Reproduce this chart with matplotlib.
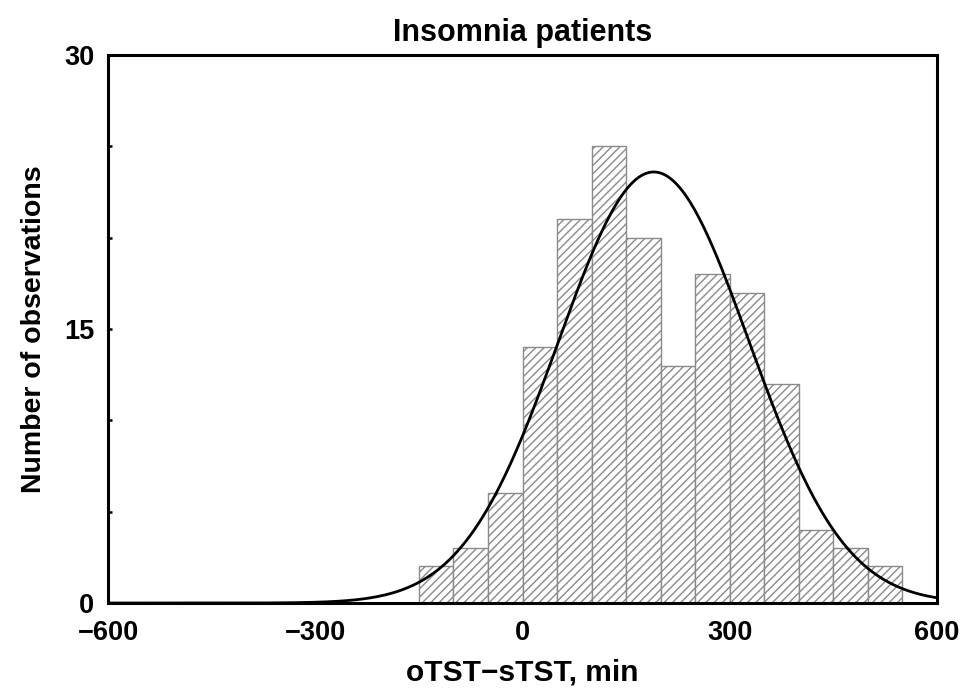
import numpy as np
import matplotlib.pyplot as plt

plt.rcParams['font.family'] = ['Liberation Sans', 'DejaVu Sans']
plt.rcParams['font.weight'] = 'bold'
plt.rcParams['hatch.color'] = '#6a6a6a'
plt.rcParams['hatch.linewidth'] = 1.0

# histogram: left bin edges (min) and counts
bin_left = [-150, -100, -50, 0, 50, 100, 150, 200, 250, 300, 350, 400, 450, 500]
counts = [2, 3, 6, 14, 21, 25, 20, 13, 18, 17, 12, 4, 3, 2]
bin_width = 50

# fitted normal curve (peak height, mean, sd)
fit_peak = 23.6
fit_mean = 190
fit_sd = 138

fig = plt.figure(figsize=(9.67, 6.88), dpi=100)
ax = fig.add_axes([0.1117, 0.1235, 0.8573, 0.7965])

ax.bar(bin_left, counts, width=bin_width, align='edge', color='white',
       edgecolor='#8a8a8a', linewidth=1.0, hatch='////')

xs = np.linspace(-600, 600, 600)
ys = fit_peak * np.exp(-0.5 * ((xs - fit_mean) / fit_sd) ** 2)
ax.plot(xs, ys, color='black', linewidth=2)

ax.set_xlim(-600, 600)
ax.set_ylim(0, 30)
ax.set_xticks([-600, -300, 0, 300, 600])
ax.set_xticklabels(['\u2212600', '\u2212300', '0', '300', '600'])
ax.set_yticks([0, 15, 30])
ax.set_yticks([5, 10, 20, 25], minor=True)
ax.tick_params(axis='both', which='both', direction='in', labelsize=19.5, width=1.8)
ax.tick_params(axis='x', which='major', length=0, pad=12)
ax.tick_params(axis='y', which='major', length=3, pad=10)
ax.tick_params(axis='y', which='minor', length=3)
for sp in ax.spines.values():
    sp.set_linewidth(2.2)

ax.set_title('Insomnia patients', fontsize=22, fontweight='bold', pad=10)
ax.set_xlabel('oTST\u2212sTST, min', fontsize=21.5, fontweight='bold', labelpad=9)
ax.set_ylabel('Number of observations', fontsize=20.5, fontweight='bold', labelpad=12)

fig.savefig('out.png', dpi=100)
